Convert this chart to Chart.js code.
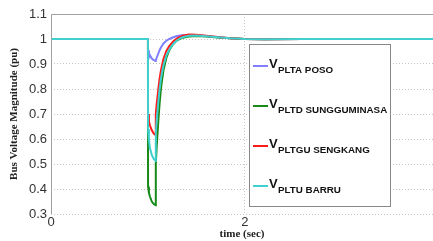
<!DOCTYPE html>
<html>
<head>
<meta charset="utf-8">
<script src="https://cdn.jsdelivr.net/npm/chart.js@4"></script>
<style>
  html, body { margin: 0; padding: 0; background: #fff; }
  #wrap { width: 433px; height: 241px; }
</style>
</head>
<body>
<div id="wrap"><canvas id="busChart"></canvas></div>
<script>
// time axis (sec) and bus voltages (pu)
const time   = [0, 1.0, 1.001, 1.01, 1.02, 1.04, 1.06, 1.08, 1.081, 1.09, 1.10, 1.11, 1.12, 1.13, 1.14, 1.16, 1.19, 1.22, 1.26, 1.30, 1.35, 1.42, 1.50, 1.60, 1.72, 1.85, 2.0, 2.2, 2.6, 3.2, 3.94];
const vPoso  = [1, 1, 0.955, 0.943, 0.935, 0.922, 0.915, 0.912, 0.915, 0.925, 0.935, 0.945, 0.955, 0.963, 0.970, 0.982, 0.993, 1.000, 1.007, 1.012, 1.015, 1.016, 1.015, 1.012, 1.007, 1.003, 1.0, 0.999, 1.0, 1.0, 1.0];
const vSung  = [1, 1, 0.41, 0.385, 0.37, 0.35, 0.34, 0.335, 0.50, 0.57, 0.63, 0.69, 0.74, 0.785, 0.82, 0.875, 0.925, 0.955, 0.98, 0.995, 1.004, 1.010, 1.012, 1.010, 1.006, 1.003, 1.0, 0.999, 1.0, 1.0, 1.0];
const vSeng  = [1, 1, 0.70, 0.67, 0.655, 0.635, 0.622, 0.615, 0.70, 0.74, 0.775, 0.81, 0.84, 0.865, 0.885, 0.92, 0.952, 0.972, 0.99, 1.003, 1.012, 1.018, 1.017, 1.013, 1.008, 1.003, 1.0, 0.999, 1.0, 1.0, 1.0];
const vBarru = [1, 1, 0.64, 0.595, 0.565, 0.535, 0.52, 0.512, 0.62, 0.675, 0.72, 0.76, 0.80, 0.83, 0.855, 0.895, 0.935, 0.958, 0.98, 0.995, 1.006, 1.013, 1.014, 1.011, 1.007, 1.003, 1.0, 0.999, 1.0, 1.0, 1.0];
const yTicks = [0.3, 0.4, 0.5, 0.6, 0.7, 0.8, 0.9, 1, 1.1];
const xTicks = [0, 2];

const series = [
    { sub: 'PLTA POSO', data: vPoso, color: '#7f7fff' },
    { sub: 'PLTD SUNGGUMINASA', data: vSung, color: '#188a18' },
    { sub: 'PLTGU SENGKANG', data: vSeng, color: '#ff1a1a' },
    { sub: 'PLTU BARRU', data: vBarru, color: '#40d0d0' }
];

// legend box with subscripts, drawn inside the plot
const subLegend = {
    id: 'subLegend',
    afterDraw(chart) {
        const c = chart.ctx;
        const a = chart.chartArea;
        // plot frame (top + left solid)
        c.save();
        c.strokeStyle = '#a0a0a0';
        c.lineWidth = 1;
        c.beginPath();
        c.moveTo(a.left + 0.5, a.bottom);
        c.lineTo(a.left + 0.5, a.top + 0.5);
        c.lineTo(a.right, a.top + 0.5);
        c.stroke();

        const x0 = 249, y0 = 44, w = 141, h = 162;
        c.fillStyle = '#fff';
        c.fillRect(x0, y0, w, h);
        c.strokeStyle = '#888';
        c.strokeRect(x0 + 0.5, y0 + 0.5, w, h);
        series.forEach((s, i) => {
            const y = 66 + i * 40;
            c.strokeStyle = s.color;
            c.lineWidth = 2;
            c.beginPath();
            c.moveTo(253, y);
            c.lineTo(268, y);
            c.stroke();
            c.fillStyle = '#111';
            c.textBaseline = 'alphabetic';
            c.font = 'bold 13px "Liberation Sans", Arial, sans-serif';
            c.fillText('V', 269, y + 2);
            c.font = 'bold 9.8px "Liberation Sans", Arial, sans-serif';
            c.fillText(s.sub, 278, y + 7);
        });
        c.restore();
    }
};

const ctx = document.getElementById('busChart').getContext('2d');
new Chart(ctx, {
    type: 'line',
    data: {
        datasets: series.map((s, i) => ({
            label: s.sub,
            data: time.map((t, k) => ({ x: t, y: s.data[k] })),
            borderColor: s.color,
            borderWidth: 2,
            pointRadius: 0,
            tension: 0,
            fill: false,
            order: 3 - i
        }))
    },
    options: {
        responsive: true,
        maintainAspectRatio: false,
        animation: false,
        layout: { padding: { top: 14, right: 0, left: 0, bottom: 0 } },
        plugins: { legend: { display: false }, tooltip: { enabled: false } },
        scales: {
            x: {
                type: 'linear',
                min: 0,
                max: 3.94,
                afterFit: s => { s.height = 27; },
                afterBuildTicks: s => { s.ticks = xTicks.map(v => ({ value: v })); },
                grid: { color: '#c4c4c4', drawTicks: false },
                border: { display: false, dash: [1, 2] },
                ticks: {
                    padding: 1,
                    color: '#333',
                    font: { family: '"Liberation Sans", Arial, sans-serif', size: 13 },
                    maxRotation: 0
                },
                title: {
                    display: true,
                    text: 'time (sec)',
                    color: '#222',
                    padding: { top: 0, bottom: 0 },
                    font: { family: '"Liberation Serif", "Times New Roman", serif', size: 11, weight: 'bold' }
                }
            },
            y: {
                min: 0.3,
                max: 1.1,
                afterFit: s => { s.width = 51; },
                afterBuildTicks: s => { s.ticks = yTicks.map(v => ({ value: v })); },
                grid: { color: '#c4c4c4', drawTicks: false },
                border: { display: false, dash: [1, 2] },
                ticks: {
                    padding: 4,
                    color: '#333',
                    font: { family: '"Liberation Sans", Arial, sans-serif', size: 13 },
                    callback: v => String(Math.round(v * 10) / 10)
                },
                title: {
                    display: true,
                    text: 'Bus Voltage Magnitude (pu)',
                    color: '#222',
                    padding: { top: 8, bottom: 0 },
                    font: { family: '"Liberation Serif", "Times New Roman", serif', size: 11, weight: 'bold' }
                }
            }
        }
    },
    plugins: [subLegend]
});
</script>
</body>
</html>
